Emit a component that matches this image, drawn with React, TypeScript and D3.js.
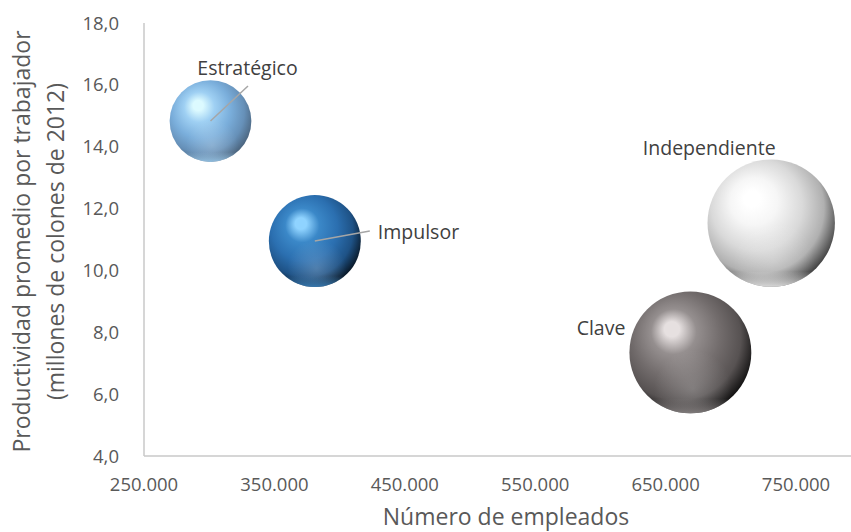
import React from "react";
import * as d3 from "d3";

// Business segments: employees (x, also bubble size) and average productivity (y)
const categories = ["Estratégico", "Impulsor", "Clave", "Independiente"];
const employees = [301000, 381000, 669000, 731000];
const productivity = [14.83, 10.95, 7.35, 11.53];

const xTicks = [250000, 350000, 450000, 550000, 650000, 750000];
const yTicks = [4, 6, 8, 10, 12, 14, 16, 18];

const xTitle = "Número de empleados";
const yTitleLines = ["Productividad promedio por trabajador", "(millones de colones de 2012)"];

const W = 851;
const H = 532;
const FONT = "'Open Sans', 'Noto Sans', sans-serif";

// Sphere shading per segment: highlight, light, base, shade, rim
const palettes: Record<string, string[]> = {
  "Estratégico": ["#dcfaff", "#9fd0f3", "#7aaedb", "#6690b8", "#4c6680"],
  "Impulsor": ["#8fd3ff", "#3b88c8", "#2b6fb0", "#1e5286", "#0a1b2c"],
  "Clave": ["#e6e0e0", "#958f8f", "#726c6c", "#575252", "#161515"],
  "Independiente": ["#ffffff", "#f6f6f6", "#d9d9d9", "#b0b0b0", "#474747"],
};

// Label placement relative to the bubble centre
const labelLayout: Record<string, { dx: number; dy: number; anchor: string; lead?: [number, number] }> = {
  "Estratégico": { dx: 37, dy: -46, anchor: "middle", lead: [37.5, -35] },
  "Impulsor": { dx: 63, dy: -2, anchor: "start", lead: [55, -10] },
  "Clave": { dx: -65, dy: -17, anchor: "end" },
  "Independiente": { dx: -62, dy: -68, anchor: "middle" },
};

export default function App() {
  const x = d3.scaleLinear().domain([250000, 800000]).range([144, 861.2]);
  const y = d3.scaleLinear().domain([4, 18]).range([456, 23]);
  const r = d3.scaleSqrt().domain([0, d3.max(employees) as number]).range([0, 63.7]);

  const fmtX = (v: number) => d3.format(",")(v).replace(/,/g, ".");
  const fmtY = (v: number) => d3.format(".1f")(v).replace(".", ",");

  const data = categories.map((c, i) => ({ c, i, xv: employees[i], yv: productivity[i] }));
  // draw larger bubbles first
  const order = [...data].sort((a, b) => b.xv - a.xv);

  return (
    <svg
      width={W}
      height={H}
      style={{ position: "absolute", left: 0, top: 0, background: "#ffffff" }}
      fontFamily={FONT}
    >
      <defs>
        {data.map((d) => {
          const p = palettes[d.c];
          return (
            <React.Fragment key={d.c}>
              <radialGradient id={`ball-${d.i}`} cx="0.42" cy="0.4" r="0.62" fx="0.34" fy="0.3">
                <stop offset="0" stopColor={p[0]} />
                <stop offset="0.1" stopColor={p[0]} />
                <stop offset="0.3" stopColor={p[1]} />
                <stop offset="0.58" stopColor={p[2]} />
                <stop offset="0.82" stopColor={p[3]} />
                <stop offset="1" stopColor={p[4]} />
              </radialGradient>
              <radialGradient id={`glow-${d.i}`} cx="0.52" cy="0.8" r="0.32">
                <stop offset="0" stopColor="#ffffff" stopOpacity="0.2" />
                <stop offset="1" stopColor="#ffffff" stopOpacity="0" />
              </radialGradient>
              <linearGradient id={`rim-${d.i}`} x1="0" y1="0" x2="0" y2="1">
                <stop offset="0.88" stopColor={p[1]} stopOpacity="0" />
                <stop offset="1" stopColor={p[1]} stopOpacity="0.8" />
              </linearGradient>
            </React.Fragment>
          );
        })}
      </defs>

      {/* axes */}
      <line x1={x(250000)} x2={W} y1={y(4)} y2={y(4)} stroke="#c9c9c9" strokeWidth={1.5} />
      <line x1={x(250000)} x2={x(250000)} y1={y(4)} y2={y(18)} stroke="#c9c9c9" strokeWidth={1.5} />

      {xTicks.map((t) => (
        <text key={t} x={x(t)} y={491} textAnchor="middle" fontSize={18.5} fill="#595959">
          {fmtX(t)}
        </text>
      ))}
      {yTicks.map((t) => (
        <text key={t} x={119} y={y(t) + 6.6} textAnchor="end" fontSize={18.5} fill="#595959">
          {fmtY(t)}
        </text>
      ))}

      <text x={506} y={525} textAnchor="middle" fontSize={23} fill="#595959">
        {xTitle}
      </text>
      {yTitleLines.map((line, k) => (
        <text
          key={line}
          transform={`translate(${30 + k * 33.5},${(y(4) + y(18)) / 2 + 2}) rotate(-90)`}
          textAnchor="middle"
          fontSize={23}
          fill="#595959"
        >
          {line}
        </text>
      ))}

      {/* bubbles */}
      {order.map((d) => {
        const cx = x(d.xv);
        const cy = y(d.yv);
        const rad = r(d.xv);
        return (
          <g key={d.c}>
            <circle cx={cx} cy={cy} r={rad} fill={`url(#ball-${d.i})`} />
            <circle cx={cx} cy={cy} r={rad} fill={`url(#glow-${d.i})`} />
            <circle cx={cx} cy={cy} r={rad} fill={`url(#rim-${d.i})`} />
          </g>
        );
      })}

      {/* data labels with leader lines */}
      {data.map((d) => {
        const cx = x(d.xv);
        const cy = y(d.yv);
        const L = labelLayout[d.c];
        return (
          <g key={d.c}>
            {L.lead && (
              <line
                x1={cx}
                y1={cy}
                x2={cx + L.lead[0]}
                y2={cy + L.lead[1]}
                stroke="#a6a6a6"
                strokeWidth={1.5}
              />
            )}
            <text
              x={cx + L.dx}
              y={cy + L.dy}
              textAnchor={L.anchor}
              fontSize={19.5}
              fill="#404040"
            >
              {d.c}
            </text>
          </g>
        );
      })}
    </svg>
  );
}
